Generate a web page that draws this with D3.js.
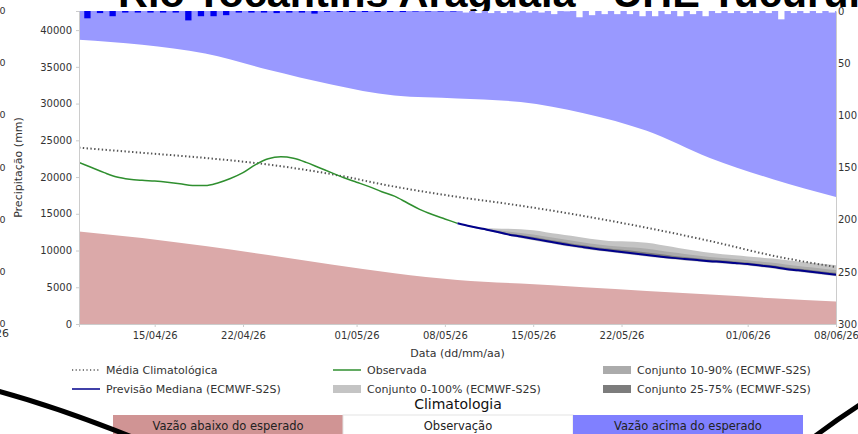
<!DOCTYPE html>
<html>
<head>
<meta charset="utf-8">
<script src="https://cdn.jsdelivr.net/npm/d3@7"></script>
<style>
  body { margin: 0; background: #fff; overflow: hidden; }
  svg { display: block; font-family: "DejaVu Sans", sans-serif; }
</style>
</head>
<body>
<div id="chart-area"></div>
<script>
// ---- data ----
const TITLE = "Rio Tocantins Araguaia - UHE Tucuruí"
const X_TICKS = ["2026-04-15", "2026-04-22", "2026-05-01", "2026-05-08",
  "2026-05-15", "2026-05-22", "2026-06-01", "2026-06-08"]
const FLOW_TICKS = [0, 5000, 10000, 15000, 20000, 25000, 30000, 35000, 40000]
const RAIN_TICKS = [0, 50, 100, 150, 200, 250, 300]

// climatology (every 5 days from 09/04/26)
const climDates = ["2026-04-09", "2026-04-14", "2026-04-19", "2026-04-24", "2026-04-29",
  "2026-05-04", "2026-05-09", "2026-05-14", "2026-05-19", "2026-05-24", "2026-05-29",
  "2026-06-03", "2026-06-08"]
const climLower = [12600, 11700, 10600, 9400, 8100, 6900, 6000, 5500, 5000, 4500, 4000, 3500, 3050]
const climUpper = [38700, 38000, 36800, 34600, 32600, 31100, 30700, 30200, 28700, 26300, 22600, 19700, 17300]
const climMean = [24000, 23300, 22600, 21700, 20400, 18700, 17300, 16100, 14700, 13100, 11300, 9300, 7750]

// observed, daily from 09/04/26
const obsStart = "2026-04-09"
const obsFlow = [22000, 21300, 20600, 20000, 19700, 19550, 19450, 19300, 19100, 18850, 18850,
  19200, 19800, 20600, 21700, 22500, 22750, 22550, 22000, 21300, 20600, 19900, 19300,
  18700, 18000, 17400, 16500, 15600, 14900, 14300, 13700]
const obsRain = [7, 2, 5, 1.5, 1.5, 1.5, 1.5, 1.5, 9, 5, 5, 4, 1.5, 1.5, 1.5, 2, 1.5, 1.5, 2.5,
  1, 1, 1, 1, 1, 1, 1, 0.5, 0.5, 0.5, 0.5]

// ECMWF-S2S forecast, daily from 09/05/26
const fcStart = "2026-05-09"
const fcMedian = [13700, 13300, 12950, 12600, 12200, 11900, 11600, 11300, 11000, 10700, 10450,
  10200, 10000, 9800, 9600, 9400, 9200, 9000, 8850, 8700, 8550, 8450, 8300, 8150, 7950,
  7750, 7500, 7300, 7100, 6900, 6700]
const fcMin = [13700, 13200, 12820, 12450, 12030, 11720, 11410, 11100, 10800, 10500, 10250,
  10000, 9800, 9600, 9400, 9200, 9000, 8800, 8650, 8500, 8350, 8250, 8100, 7950, 7750,
  7550, 7300, 7100, 6900, 6700, 6500]
const fcMax = [13700, 13400, 13100, 13000, 12950, 12900, 12750, 12500, 12250, 12000, 11750,
  11500, 11300, 11250, 11200, 11050, 10800, 10500, 10200, 9950, 9700, 9500, 9350, 9200,
  9050, 8900, 8700, 8500, 8350, 8150, 8000]
const fcP10 = [13700, 13230, 12870, 12520, 12120, 11820, 11520, 11220, 10920, 10620, 10370,
  10120, 9920, 9720, 9520, 9320, 9120, 8920, 8770, 8620, 8470, 8370, 8220, 8070, 7870,
  7670, 7420, 7220, 7020, 6820, 6620]
const fcP90 = [13700, 13350, 13030, 12800, 12580, 12400, 12180, 11900, 11630, 11350, 11100,
  10850, 10650, 10530, 10400, 10230, 10000, 9750, 9530, 9330, 9130, 8980, 8830, 8680,
  8500, 8330, 8100, 7900, 7730, 7530, 7350]
const fcP25 = [13700, 13260, 12910, 12560, 12160, 11860, 11560, 11260, 10960, 10660, 10410,
  10160, 9960, 9760, 9560, 9360, 9160, 8960, 8810, 8660, 8510, 8410, 8260, 8110, 7910,
  7710, 7460, 7260, 7060, 6860, 6660]
const fcP75 = [13700, 13320, 12980, 12680, 12350, 12100, 11830, 11540, 11250, 10960, 10710,
  10460, 10260, 10090, 9920, 9730, 9520, 9300, 9120, 8950, 8780, 8660, 8510, 8360, 8170,
  7980, 7740, 7540, 7350, 7150, 6960]
const fcRain = [1.5, 2, 2, 2, 1.5, 1.5, 1.5, 3, 0.3, 6, 4, 3, 3, 3, 5, 5, 3, 5, 3, 5, 2, 2, 2,
  2, 2, 8, 2, 2, 2, 1.5]

// ---- layout ----
const W = 858, H = 434
const MARGIN = { LEFT: 79, RIGHT: 22, TOP: 11, BOTTOM: 110 }
const WIDTH = W - MARGIN.LEFT - MARGIN.RIGHT
const HEIGHT = H - MARGIN.TOP - MARGIN.BOTTOM

const parse = d3.timeParse("%Y-%m-%d")

const svg = d3.select("#chart-area").append("svg")
  .attr("width", W)
  .attr("height", H)

// title (cut off at the top in the reference)
svg.append("text")
  .attr("x", 118)
  .attr("y", 7)
  .attr("font-family", "Liberation Sans, sans-serif")
  .attr("font-weight", "bold")
  .attr("font-size", "41px")
  .attr("textLength", 742)
  .attr("lengthAdjust", "spacingAndGlyphs")
  .attr("fill", "#000")
  .text(TITLE)

const g = svg.append("g")
  .attr("transform", `translate(${MARGIN.LEFT}, ${MARGIN.TOP})`)

const x = d3.scaleTime()
  .domain([parse("2026-04-09"), parse("2026-06-08")])
  .range([0, WIDTH])
const y = d3.scaleLinear()
  .domain([0, 42600])
  .range([HEIGHT, 0])
const yRain = d3.scaleLinear()
  .domain([0, 300])
  .range([0, HEIGHT])

g.append("clipPath").attr("id", "plot-clip")
  .append("rect").attr("width", WIDTH).attr("height", HEIGHT)
const plot = g.append("g").attr("clip-path", "url(#plot-clip)")

// build rows
const clim = climDates.map((d, i) => ({
  date: parse(d), lower: climLower[i], upper: climUpper[i], mean: climMean[i]
}))
const obs = obsFlow.map((v, i) => ({
  date: d3.timeDay.offset(parse(obsStart), i), flow: v, rain: obsRain[i]
}))
const fc = fcMedian.map((v, i) => ({
  date: d3.timeDay.offset(parse(fcStart), i), median: v,
  min: fcMin[i], max: fcMax[i], p10: fcP10[i], p90: fcP90[i],
  p25: fcP25[i], p75: fcP75[i], rain: fcRain[i]
}))

const curve = d3.curveMonotoneX

// climatology bands
plot.append("path").datum(clim)
  .attr("fill", "#dba9a9")
  .attr("d", d3.area().curve(curve).x(d => x(d.date)).y0(HEIGHT).y1(d => y(d.lower)))
plot.append("path").datum(clim)
  .attr("fill", "#9999ff")
  .attr("d", d3.area().curve(curve).x(d => x(d.date)).y0(0).y1(d => y(d.upper)))

// ensemble bands
const band = (lo, hi, color) => plot.append("path").datum(fc)
  .attr("fill", color)
  .attr("d", d3.area().curve(curve).x(d => x(d.date)).y0(d => y(d[lo])).y1(d => y(d[hi])))
band("min", "max", "#c4c4c4")
band("p10", "p90", "#ababab")
band("p25", "p75", "#7c7c7c")

// climatological mean
plot.append("path").datum(clim)
  .attr("fill", "none")
  .attr("stroke", "#555")
  .attr("stroke-width", 2)
  .attr("stroke-dasharray", "1.4,2.4")
  .attr("d", d3.line().curve(curve).x(d => x(d.date)).y(d => y(d.mean)))

// observed
plot.append("path").datum(obs)
  .attr("fill", "none")
  .attr("stroke", "#2f8f2f")
  .attr("stroke-width", 1.5)
  .attr("d", d3.line().curve(curve).x(d => x(d.date)).y(d => y(d.flow)))

// forecast median
plot.append("path").datum(fc)
  .attr("fill", "none")
  .attr("stroke", "#00008b")
  .attr("stroke-width", 2)
  .attr("d", d3.line().curve(curve).x(d => x(d.date)).y(d => y(d.median)))

// precipitation bars hanging from the top
const barW = x(d3.timeHour.offset(x.domain()[0], 12)) - x(x.domain()[0])
plot.selectAll("rect.obs-rain").data(obs.filter(d => d.rain != null))
  .enter().append("rect")
  .attr("class", "obs-rain")
  .attr("x", d => x(d3.timeHour.offset(d.date, 10)))
  .attr("y", 0)
  .attr("width", barW)
  .attr("height", d => yRain(d.rain))
  .attr("fill", "#0000f0")
plot.selectAll("rect.fc-rain").data(fc.filter(d => d.rain != null))
  .enter().append("rect")
  .attr("class", "fc-rain")
  .attr("x", d => x(d3.timeHour.offset(d.date, 10)))
  .attr("y", 0)
  .attr("width", barW)
  .attr("height", d => yRain(d.rain))
  .attr("fill", "#fff")

// axes
const styleAxis = (sel) => {
  sel.select(".domain").attr("stroke", "#cccccc")
  sel.selectAll(".tick line").attr("stroke", "#cccccc")
  sel.selectAll(".tick text").attr("fill", "#333").attr("font-family", "DejaVu Sans, sans-serif")
}

const yAxisCall = d3.axisLeft(y)
  .tickValues(FLOW_TICKS)
  .tickFormat(d3.format("d"))
  .tickSize(3)
  .tickPadding(4)
g.append("g").attr("class", "y axis")
  .attr("font-size", "11px")
  .call(yAxisCall)
  .call(styleAxis)

const xAxisCall = d3.axisBottom(x)
  .tickValues(X_TICKS.map(parse))
  .tickFormat(d3.timeFormat("%d/%m/%y"))
  .tickSize(3)
  .tickPadding(5)
g.append("g").attr("class", "x axis")
  .attr("transform", `translate(0, ${HEIGHT})`)
  .attr("font-size", "11px")
  .call(xAxisCall)
  .call(styleAxis)

const rainAxisCall = d3.axisRight(yRain)
  .tickValues(RAIN_TICKS)
  .tickSize(0)
  .tickPadding(2)
g.append("g").attr("class", "rain axis")
  .attr("transform", `translate(${WIDTH}, 0)`)
  .attr("font-size", "9.5px")
  .call(rainAxisCall)
  .call(styleAxis)

// pieces of the neighbouring chart showing at the left edge
const ghost = svg.append("g").attr("transform", `translate(0, ${MARGIN.TOP})`)
  .attr("font-size", "9.5px").attr("fill", "#333").attr("text-anchor", "end")
ghost.selectAll("text").data(RAIN_TICKS).enter().append("text")
  .attr("x", 5.5)
  .attr("y", d => yRain(d))
  .attr("dy", "0.32em")
  .text(d => d)
ghost.append("text")
  .attr("x", 9)
  .attr("y", HEIGHT + 13)
  .attr("font-size", "11px")
  .text("08/06/26")

// axis labels
g.append("text")
  .attr("x", WIDTH / 2)
  .attr("y", HEIGHT + 33)
  .attr("font-size", "11px")
  .attr("text-anchor", "middle")
  .attr("fill", "#333")
  .text("Data (dd/mm/aa)")

svg.append("text")
  .attr("transform", `translate(22, ${MARGIN.TOP + HEIGHT / 2}) rotate(-90)`)
  .attr("font-size", "11px")
  .attr("text-anchor", "middle")
  .attr("fill", "#333")
  .text("Precipitação (mm)")

// legend
const legendItems = [
  { label: "Média Climatológica", kind: "dots", color: "#555", col: 0, row: 0 },
  { label: "Previsão Mediana (ECMWF-S2S)", kind: "line", color: "#00008b", col: 0, row: 1 },
  { label: "Observada", kind: "line", color: "#2f8f2f", col: 1, row: 0 },
  { label: "Conjunto 0-100% (ECMWF-S2S)", kind: "patch", color: "#c4c4c4", col: 1, row: 1 },
  { label: "Conjunto 10-90% (ECMWF-S2S)", kind: "patch", color: "#ababab", col: 2, row: 0 },
  { label: "Conjunto 25-75% (ECMWF-S2S)", kind: "patch", color: "#7c7c7c", col: 2, row: 1 }
]
const colX = [72, 333, 603]
const rowY = [370, 389]
const legend = svg.append("g").attr("font-size", "11px").attr("fill", "#333")
legendItems.forEach(d => {
  const lx = colX[d.col], ly = rowY[d.row]
  if (d.kind === "patch") {
    legend.append("rect").attr("x", lx).attr("y", ly - 4).attr("width", 28).attr("height", 8)
      .attr("fill", d.color)
  } else {
    legend.append("line").attr("x1", lx).attr("x2", lx + 28).attr("y1", ly).attr("y2", ly)
      .attr("stroke", d.color)
      .attr("stroke-width", d.kind === "dots" ? 1.6 : 1.5)
      .attr("stroke-dasharray", d.kind === "dots" ? "1.2,2.4" : null)
  }
  legend.append("text").attr("x", lx + 34).attr("y", ly).attr("dy", "0.35em").text(d.label)
})

// climatology key
svg.append("text")
  .attr("x", 458)
  .attr("y", 409)
  .attr("font-size", "14px")
  .attr("text-anchor", "middle")
  .attr("fill", "#111")
  .text("Climatologia")

const climKeys = [
  { label: "Vazão abaixo do esperado", color: "#d09494" },
  { label: "Observação", color: "#fff" },
  { label: "Vazão acima do esperado", color: "#8080ff" }
]
const keyW = 230, keyX0 = 113
climKeys.forEach((d, i) => {
  svg.append("rect")
    .attr("x", keyX0 + i * keyW).attr("y", 415)
    .attr("width", keyW).attr("height", 30)
    .attr("fill", d.color)
    .attr("stroke", i === 1 ? "#e4e4e4" : "none")
  svg.append("text")
    .attr("x", keyX0 + i * keyW + keyW / 2).attr("y", 430)
    .attr("font-size", "11.5px")
    .attr("text-anchor", "middle")
    .attr("fill", "#222")
    .text(d.label)
})

// black frame strokes from the photo
svg.append("path")
  .attr("d", "M-2,391 Q60,408 132,437")
  .attr("fill", "none").attr("stroke", "#000").attr("stroke-width", 5)
svg.append("path")
  .attr("d", "M814,437 Q836,420 861,404")
  .attr("fill", "none").attr("stroke", "#000").attr("stroke-width", 5)
</script>
</body>
</html>
